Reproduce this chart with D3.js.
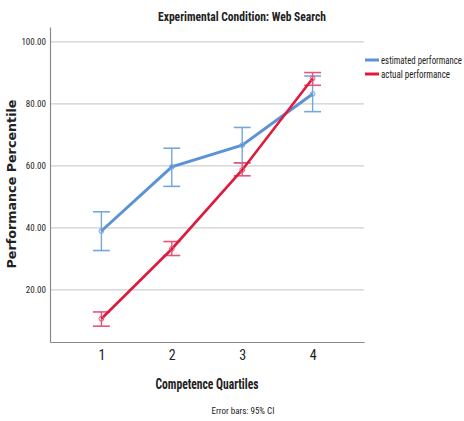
<!DOCTYPE html>
<html>
<head>
<meta charset="utf-8">
<script src="https://cdn.jsdelivr.net/npm/d3@7"></script>
<style>
  body { margin: 0; background: #fff; }
  svg { display: block; }
  .narrow { font-family: 'Liberation Sans Narrow', 'Roboto Condensed', 'Liberation Sans', sans-serif; }
</style>
</head>
<body>
<svg id="chart" width="464" height="421"></svg>
<script>
// chart values
const quartiles = [1, 2, 3, 4]
const yTicks = [20, 40, 60, 80, 100]
const estimated = [39.0, 59.7, 66.7, 83.2]
const estimatedLo = [32.7, 53.4, 61.0, 77.5]
const estimatedHi = [45.2, 65.7, 72.4, 89.0]
const actual = [10.7, 33.2, 58.7, 88.2]
const actualLo = [8.3, 31.1, 56.8, 86.0]
const actualHi = [12.9, 35.6, 61.0, 90.1]
const seriesNames = ['estimated performance', 'actual performance']

const svg = d3.select('#chart')
const plotLeft = 50
const plotRight = 364
const plotTop = 27
const plotBottom = 342

const x = d3.scaleLinear().domain([0.27, 4.73]).range([plotLeft, plotRight])
const y = d3.scaleLinear().domain([3.2, 104.8]).range([plotBottom, plotTop])

// gridlines
svg.append('g')
  .selectAll('line')
  .data(yTicks)
  .enter()
  .append('line')
  .attr('x1', plotLeft)
  .attr('x2', plotRight)
  .attr('y1', d => y(d))
  .attr('y2', d => y(d))
  .attr('stroke', '#cfcfcf')
  .attr('stroke-width', 1.2)

// y axis
const yAxis = svg.append('g')
  .attr('transform', `translate(${plotLeft},0)`)
  .call(d3.axisLeft(y).tickValues(yTicks).tickSize(0).tickPadding(4).tickFormat(d3.format('.2f')))
yAxis.select('.domain').attr('stroke', '#8a8a8a').attr('stroke-width', 1.2)
yAxis.selectAll('text')
  .attr('class', 'narrow')
  .attr('font-size', 9)
  .attr('fill', '#222')

// x axis
const xAxis = svg.append('g')
  .attr('transform', `translate(0,${plotBottom})`)
  .call(d3.axisBottom(x).tickValues(quartiles).tickSize(0).tickPadding(8).tickFormat(d3.format('d')))
xAxis.select('.domain').attr('stroke', '#8a8a8a').attr('stroke-width', 1.2)
xAxis.selectAll('text')
  .attr('class', 'narrow')
  .attr('font-size', 14)
  .attr('fill', '#222')

const series = [
  { name: seriesNames[0], mean: estimated, lo: estimatedLo, hi: estimatedHi, color: '#5b93d4', bar: '#74a6e0', width: 3, labelLen: 81 },
  { name: seriesNames[1], mean: actual, lo: actualLo, hi: actualHi, color: '#df1a3d', bar: '#e8557a', width: 2.6, labelLen: 69 }
]

const line = d3.line()
  .x((d, i) => x(quartiles[i]))
  .y(d => y(d))

const capHalf = 0.12

series.forEach(s => {
  const g = svg.append('g')
  const rows = quartiles.map((q, i) => ({ q, m: s.mean[i], lo: s.lo[i], hi: s.hi[i] }))

  // error bars
  g.selectAll('.whisker')
    .data(rows)
    .enter()
    .append('line')
    .attr('x1', d => x(d.q))
    .attr('x2', d => x(d.q))
    .attr('y1', d => y(d.lo))
    .attr('y2', d => y(d.hi))
    .attr('stroke', s.bar)
    .attr('stroke-width', 1.4)
  ;['lo', 'hi'].forEach(k => {
    g.selectAll('.cap-' + k)
      .data(rows)
      .enter()
      .append('line')
      .attr('x1', d => x(d.q - capHalf))
      .attr('x2', d => x(d.q + capHalf))
      .attr('y1', d => y(d[k]))
      .attr('y2', d => y(d[k]))
      .attr('stroke', s.bar)
      .attr('stroke-width', 1.6)
  })

  g.append('path')
    .datum(s.mean)
    .attr('d', line)
    .attr('fill', 'none')
    .attr('stroke', s.color)
    .attr('stroke-width', s.width)

  g.selectAll('circle')
    .data(rows)
    .enter()
    .append('circle')
    .attr('cx', d => x(d.q))
    .attr('cy', d => y(d.m))
    .attr('r', 2.4)
    .attr('fill', 'none')
    .attr('stroke', s.bar)
    .attr('stroke-width', 1)
})

// legend
const legend = svg.append('g')
series.forEach((s, i) => {
  legend.append('line')
    .attr('x1', 365)
    .attr('x2', 379)
    .attr('y1', 60 + i * 14)
    .attr('y2', 60 + i * 14)
    .attr('stroke', s.color)
    .attr('stroke-width', 3)
  legend.append('text')
    .attr('class', 'narrow')
    .attr('x', 381)
    .attr('y', 60 + i * 14)
    .attr('dy', '0.35em')
    .attr('font-size', 10.5)
    .attr('textLength', s.labelLen)
    .attr('lengthAdjust', 'spacingAndGlyphs')
    .attr('fill', '#222')
    .text(s.name)
})

// titles
svg.append('text')
  .attr('class', 'narrow')
  .attr('x', 242)
  .attr('y', 21)
  .attr('text-anchor', 'middle')
  .attr('font-size', 13.5)
  .attr('font-weight', 'bold')
  .attr('textLength', 168)
  .attr('lengthAdjust', 'spacingAndGlyphs')
  .attr('fill', '#222')
  .text('Experimental Condition: Web Search')

svg.append('text')
  .attr('class', 'narrow')
  .attr('x', (plotLeft + plotRight) / 2)
  .attr('y', 389)
  .attr('text-anchor', 'middle')
  .attr('font-size', 14.5)
  .attr('font-weight', 'bold')
  .attr('textLength', 103)
  .attr('lengthAdjust', 'spacingAndGlyphs')
  .attr('fill', '#222')
  .text('Competence Quartiles')

svg.append('text')
  .attr('transform', 'translate(16,184) rotate(-90)')
  .attr('text-anchor', 'middle')
  .attr('font-family', 'DejaVu Sans, Verdana, sans-serif')
  .attr('font-size', 11.5)
  .attr('font-weight', 'bold')
  .attr('textLength', 169)
  .attr('lengthAdjust', 'spacingAndGlyphs')
  .attr('fill', '#222')
  .text('Performance Percentile')

svg.append('text')
  .attr('class', 'narrow')
  .attr('x', 243)
  .attr('y', 414)
  .attr('text-anchor', 'middle')
  .attr('font-size', 9)
  .attr('fill', '#222')
  .text('Error bars: 95% CI')
</script>
</body>
</html>
